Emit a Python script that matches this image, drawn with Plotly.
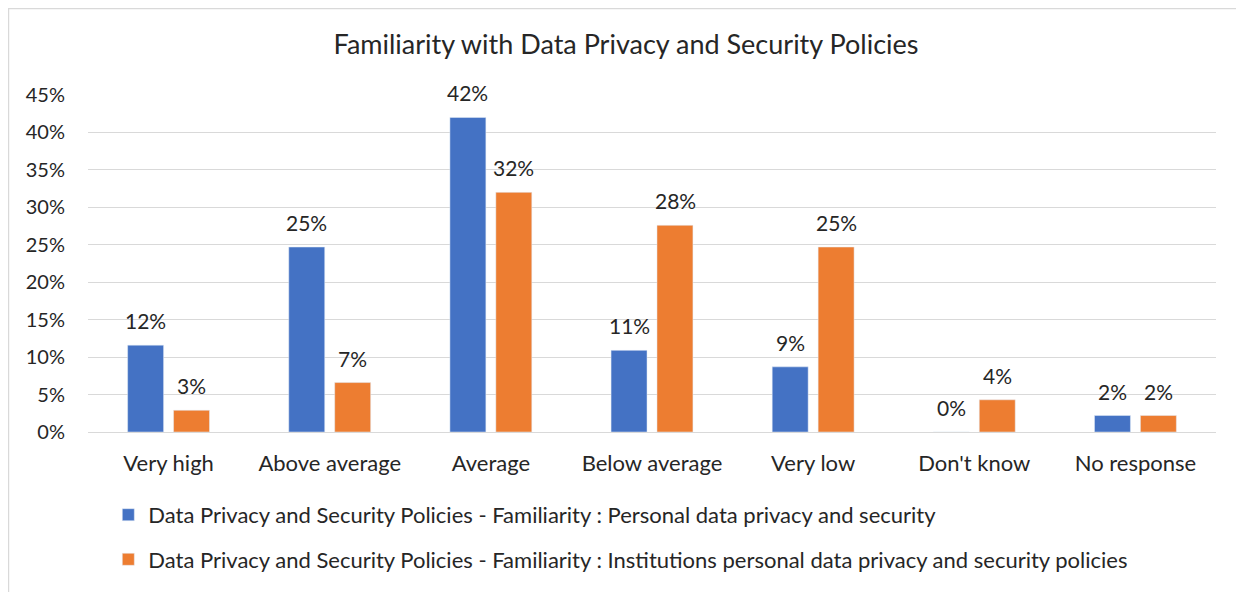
import plotly.graph_objects as go

categories = ["Very high", "Above average", "Average", "Below average",
              "Very low", "Don't know", "No response"]
personal = [0.116, 0.247, 0.420, 0.109, 0.087, 0.0, 0.022]
institutions = [0.029, 0.066, 0.320, 0.276, 0.247, 0.043, 0.022]
series_names = [
    "Data Privacy and Security Policies - Familiarity : Personal data privacy and security",
    "Data Privacy and Security Policies - Familiarity : Institutions personal data privacy and security policies",
]
colors = ["#4472C4", "#ED7D31"]

FONT = "Lato, Calibri, Carlito, sans-serif"
TXT = "#262626"

fig = go.Figure()
for i, (name, vals) in enumerate(zip(series_names, [personal, institutions])):
    fig.add_trace(go.Bar(x=categories, y=vals, name=name,
                         marker=dict(color=colors[i]),
                         legendgroup=f"g{i}"))
    # data labels sit a bit above the bars, Excel style
    for cat, v in zip(categories, vals):
        fig.add_annotation(x=cat, y=v, text=f"{round(v * 100):.0f}%",
                           showarrow=False, yanchor="bottom",
                           xshift=-23 if i == 0 else 23, yshift=10,
                           font=dict(size=21, color=TXT, family=FONT))

# chart border (page body adds an 8px offset, so the figure is a bit smaller)
fig.add_shape(type="rect", xref="paper", yref="paper",
              x0=-0.0705, x1=1.023, y0=-0.6, y1=1.2567,
              line=dict(color="#D9D9D9", width=1.5), layer="below")

fig.update_layout(
    width=1236, height=584,
    margin=dict(l=80, r=28, t=87, b=160, autoexpand=False),
    plot_bgcolor="white", paper_bgcolor="white",
    font=dict(family=FONT, color=TXT, size=20),
    title=dict(text="Familiarity with Data Privacy and Security Policies",
               x=0.5, xanchor="center", y=0.9366, yanchor="middle",
               font=dict(size=27, color=TXT, family=FONT)),
    barmode="group", bargap=0.43, bargroupgap=0.217,
    legend=dict(orientation="v", x=0.018, xanchor="left",
                y=0.168, yref="container", yanchor="top",
                font=dict(size=22, color=TXT, family=FONT),
                tracegroupgap=13, itemwidth=30),
    showlegend=True,
)
fig.update_yaxes(range=[0, 0.45], dtick=0.05, tickformat=".0%",
                 showgrid=True, gridcolor="#D9D9D9", gridwidth=1.3,
                 zeroline=True, zerolinecolor="#D9D9D9", zerolinewidth=1.3,
                 ticks="", ticklabelstandoff=22,
                 tickfont=dict(size=20, color=TXT))
fig.update_xaxes(showline=False, ticks="",
                 tickfont=dict(size=22, color=TXT), ticklabelstandoff=16)

fig.write_html("out.html")
